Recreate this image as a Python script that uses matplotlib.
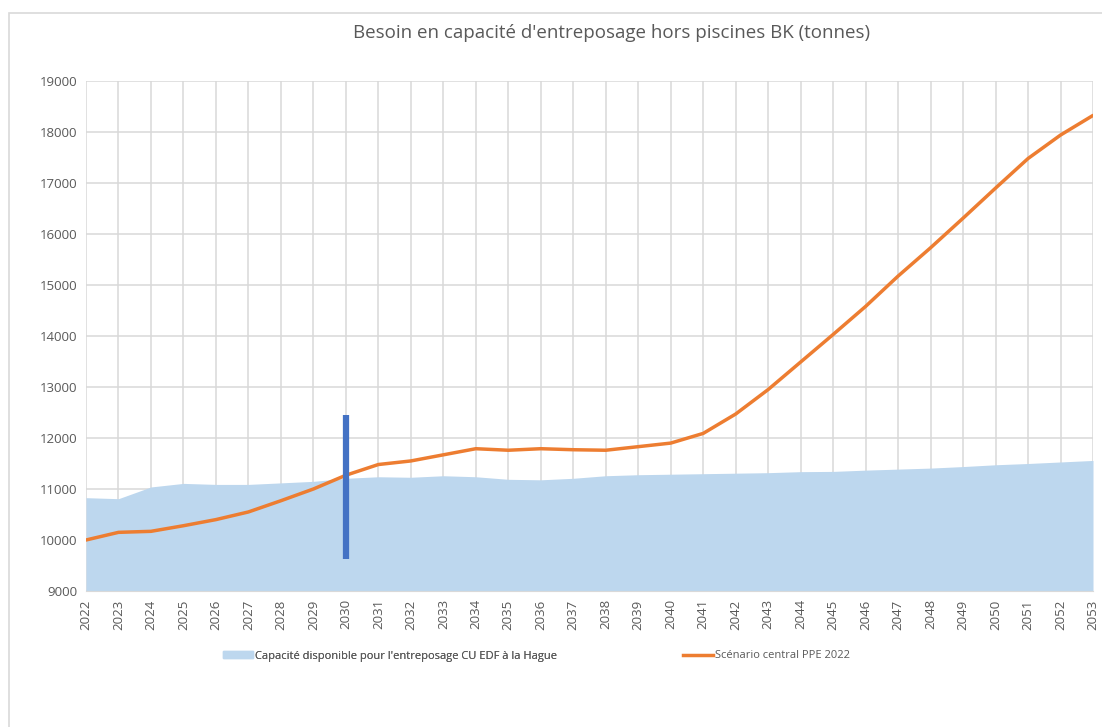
import matplotlib.pyplot as plt
import matplotlib.patches as mpatches
from matplotlib.lines import Line2D

plt.rcParams['font.family'] = ['Open Sans', 'DejaVu Sans']

years = list(range(2022, 2054))

# capacité disponible (aire bleue)
capacite = [10830, 10810, 11040, 11110, 11090, 11090, 11120, 11150, 11210, 11240,
            11230, 11260, 11240, 11190, 11180, 11210, 11260, 11280, 11290, 11300,
            11310, 11320, 11340, 11345, 11370, 11390, 11410, 11440, 11475, 11500,
            11530, 11560]

# scénario central PPE 2022 (courbe orange)
scenario = [10000, 10150, 10170, 10280, 10400, 10550, 10770, 11000, 11270, 11480,
            11550, 11670, 11790, 11760, 11790, 11770, 11760, 11830, 11900, 12090,
            12470, 12950, 13490, 14030, 14580, 15175, 15730, 16310, 16900, 17480,
            17940, 18325]

# barre verticale de repère
marker_year = 2030
marker_low, marker_high = 9620, 12450

fig = plt.figure(figsize=(11.02, 7.27), dpi=100)
ax = fig.add_axes([86 / 1102, 1 - 591 / 727, (1093 - 86) / 1102, (591 - 81) / 727])

# chart border
fig.patches.append(mpatches.Rectangle((9 / 1102, -0.01), 1.1, 1 - 13 / 727 + 0.01,
                                      transform=fig.transFigure, fill=False,
                                      edgecolor='#d9d9d9', linewidth=1.2))

ax.fill_between(years, 9000, capacite, color='#bdd7ee', linewidth=0, zorder=2)
ax.plot(years, scenario, color='#ed7d31', linewidth=2.5, zorder=3,
        solid_capstyle='round')
ax.vlines(marker_year, marker_low, marker_high, color='#4472c4', linewidth=4.5, zorder=4)

ax.set_xlim(2022, 2053)
ax.set_ylim(9000, 19000)
ax.set_xticks(years)
ax.set_xticklabels([str(y) for y in years], rotation=90)
ax.set_yticks(range(9000, 19001, 1000))
ax.grid(True, color='#d9d9d9', linewidth=1.1, zorder=0)
ax.set_axisbelow(True)
for s in ['top', 'right', 'left']:
    ax.spines[s].set_visible(False)
ax.spines['bottom'].set_color('#d9d9d9')
ax.tick_params(axis='both', length=0, labelcolor='#595959', labelsize=9.5, pad=6)

fig.text(612 / 1102, 1 - 33 / 727, "Besoin en capacité d'entreposage hors piscines BK (tonnes)",
         ha='center', va='center', fontsize=13.5, color='#595959')

# légende : deux entrées placées séparément
leg_kw = dict(frameon=False, fontsize=8.0, labelcolor='#595959', loc='center left',
              handlelength=2.7, handleheight=0.5, handletextpad=0.15,
              borderpad=0, borderaxespad=0)
leg1 = fig.legend(handles=[mpatches.Patch(color='#bdd7ee',
                  label="Capacité disponible pour l'entreposage CU EDF à la Hague")],
                  bbox_to_anchor=(223 / 1102, 1 - 656 / 727), **leg_kw)
fig.legend(handles=[Line2D([0], [0], color='#ed7d31', linewidth=2.5,
                           label='Scénario central PPE 2022')],
           bbox_to_anchor=(683 / 1102, 1 - 656 / 727), **leg_kw)
fig.add_artist(leg1)

fig.savefig('out.png', dpi=100)
